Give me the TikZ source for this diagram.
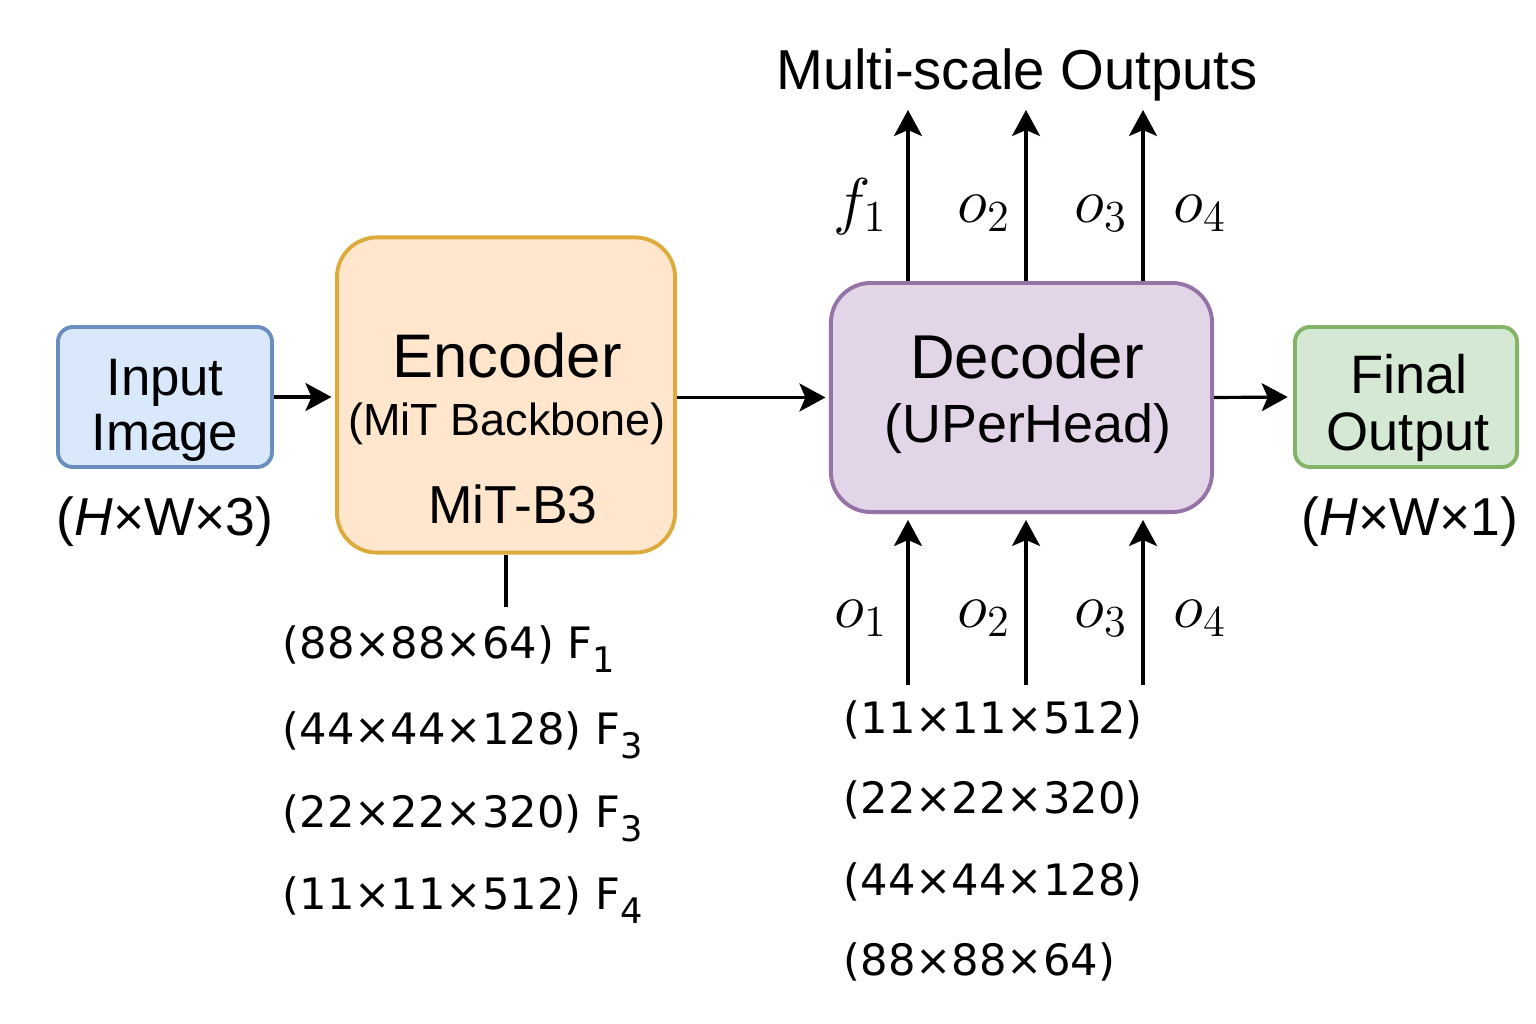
\documentclass[tikz,border=0pt]{standalone}
\usepackage{fix-cm}
\usepackage{fontspec}
\setmainfont{Liberation Sans}
\newfontfamily\dimfont{DejaVu Sans}
\usetikzlibrary{arrows.meta}

\definecolor{infill}{HTML}{DAE8FC}
\definecolor{inline}{HTML}{6C8EBF}
\definecolor{encfill}{HTML}{FFE6CC}
\definecolor{encline}{HTML}{DDAA3C}
\definecolor{decfill}{HTML}{E1D5E7}
\definecolor{decline}{HTML}{9673A6}
\definecolor{outfill}{HTML}{D5E8D4}
\definecolor{outline}{HTML}{82B366}

\tikzstyle{block}=[draw,line width=1.1pt,inner sep=0pt]
\tikzstyle{arrow}=[draw,line width=0.9pt,-{Stealth[length=2.6mm,width=2.8mm,inset=0.6mm]}]
\tikzstyle{boxtext}=[anchor=base,inner sep=0pt]
\tikzstyle{dimtext}=[anchor=base west,inner sep=0pt,font=\dimfont\fontsize{12.3}{14}\selectfont]
\tikzstyle{featlabel}=[anchor=base,inner sep=0pt,font=\fontsize{18}{21}\selectfont]
\newcommand{\px}{0.01cm}
\newcommand{\fsub}[1]{\raisebox{-0.6ex}{\fontsize{10}{10}\selectfont #1}}

\begin{document}
\begin{tikzpicture}[x=\px, y=-\px]
    \useasboundingbox (0,0) rectangle (1536,1024);
    % First we draw the blocks
    \foreach \pos/\name/\w/\h/\r/\fc/\lc in {{(165,397)/input/2.14cm/1.40cm/1.5mm/infill/inline},
        {(506,395)/enc/3.38cm/3.15cm/4mm/encfill/encline},
        {(1021.5,397.5)/dec/3.81cm/2.29cm/4mm/decfill/decline},
        {(1406,397)/final/2.22cm/1.40cm/1.5mm/outfill/outline}}
        \node[block, minimum width=\w, minimum height=\h, rounded corners=\r, fill=\fc, draw=\lc] (\name) at \pos {};
    % Text inside the blocks
    \foreach \pos/\name/\size/\txt in {{(165,395)/intxta/15/Input}, {(165,450)/intxtb/15/Image},
        {(507,377)/enctxta/17.5/Encoder}, {(507,435)/enctxtb/12.8/(MiT Backbone)}, {(513,523)/enctxtc/15.2/MiT-B3},
        {(1027,378)/dectxta/17.6/Decoder}, {(1028,442)/dectxtb/15.3/(UPerHead)},
        {(1409,393)/outtxta/15.4/Final}, {(1408,450)/outtxtb/15.4/Output}}
        \node[boxtext, font=\fontsize{\size}{\size}\selectfont] (\name) at \pos {\txt};
    % Shapes of input and output
    \node[boxtext, font=\fontsize{15.2}{17}\selectfont] (inshape) at (165,535) {(\textit{H}×W×3)};
    \node[boxtext, font=\fontsize{15.2}{17}\selectfont] (outshape) at (1410,535) {(\textit{H}×W×1)};
    \node[boxtext, font=\fontsize{16}{18}\selectfont] (multi) at (1017,90) {Multi-scale Outputs};
    % Main path
    \path[arrow, shorten >=1pt] (input.east) -- (enc.west |- input.east);
    \path[arrow, shorten >=1pt] (enc.east |- dec.west) -- (dec.west);
    \path[arrow, shorten >=1.5pt] (dec.east) -- (final.west);
    % Encoder features
    \coordinate (encstub) at (506,607);
    \draw[line width=0.9pt] (enc.south) -- (encstub);
    \foreach \y/\name/\txt in {658/feata/(88×88×64) F\fsub{1}, 744/featb/(44×44×128) F\fsub{3},
        827/featc/(22×22×320) F\fsub{3}, 909/featd/(11×11×512) F\fsub{4}}
        \node[dimtext] (\name) at (282,\y) {\txt};
    % Decoder inputs and outputs
    \foreach \x/\n in {908/a, 1026/b, 1143/c} {
        \coordinate (top\n) at (\x,110);
        \coordinate (bot\n) at (\x,685);
        \path[arrow] (dec.north -| top\n) -- (top\n);
        \path[arrow, shorten >=1.7pt] (bot\n) -- (dec.south -| bot\n);
    }
    \foreach \pos/\name/\m in {{(860,222)/upa/f_1}, {(984,222)/upb/o_2}, {(1101,222)/upc/o_3}, {(1200,222)/upd/o_4},
        {(861,627)/lowa/o_1}, {(984,627)/lowb/o_2}, {(1101,627)/lowc/o_3}, {(1200,627)/lowd/o_4}}
        \node[featlabel] (\name) at \pos {$\m$};
    \foreach \y/\name/\txt in {733/deca/(11×11×512), 813/decb/(22×22×320), 895/decc/(44×44×128), 975/decd/(88×88×64)}
        \node[dimtext] (\name) at (843,\y) {\txt};
\end{tikzpicture}
\end{document}
